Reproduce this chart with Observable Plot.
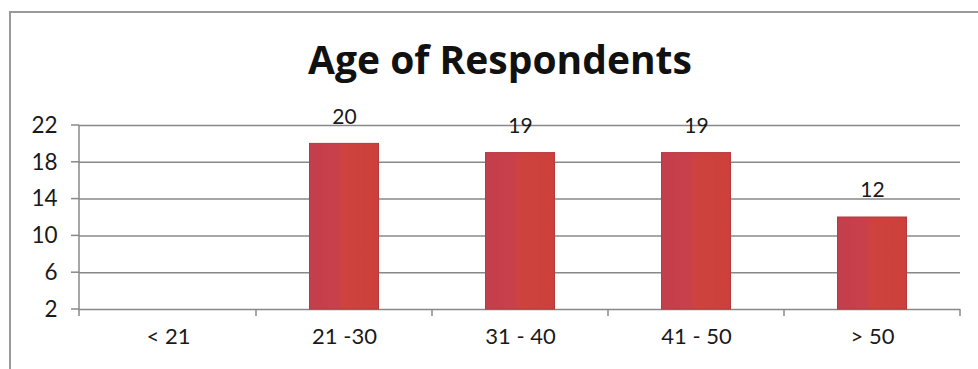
<!DOCTYPE html>
<html>
<head>
<meta charset="utf-8">
<script src="https://cdn.jsdelivr.net/npm/d3@7"></script>
<script src="https://cdn.jsdelivr.net/npm/@observablehq/plot@0.6"></script>
<style>
  html, body { margin: 0; padding: 0; background: #fff; overflow: hidden; }
  #wrap { position: relative; width: 978px; height: 369px; }
  #border { position: absolute; left: 9px; top: 11px; right: 0; bottom: 0;
            border-top: 2px solid #9a9a9a; border-left: 2px solid #9a9a9a; }
  #title { position: absolute; left: 22px; width: 956px; top: 39px; text-align: center;
           font-family: "Open Sans", Lato, sans-serif; font-weight: 700; font-size: 39px;
           line-height: 40px; color: #111; }
  svg { position: absolute; left: 0; top: 0; }
</style>
</head>
<body>
<div id="wrap">
  <div id="border"></div>
  <div id="title">Age of Respondents</div>
</div>
<script>
// Respondents per age group
const categories = ["< 21", "21 -30", "31 - 40", "41 - 50", "> 50"];
const counts = [null, 20, 19, 19, 12];
const yTicks = [2, 6, 10, 14, 18, 22];

const data = categories.map((age, i) => ({age, count: counts[i]}));
const present = data.filter(d => d.count != null);

const lineColor = "#888888";

// Axis line, y tick marks and category boundary ticks
function axisLines(index, {x, y}, channels, {width, marginLeft, marginRight}) {
  const g = d3.create("svg:g")
    .attr("stroke", lineColor).attr("stroke-width", 1.5).attr("fill", "none");
  const left = marginLeft, right = width - marginRight;
  const yb = y(yTicks[0]), yt = y(yTicks[yTicks.length - 1]);
  g.append("line").attr("x1", left).attr("x2", left).attr("y1", yt).attr("y2", yb + 7);
  for (const t of yTicks) {
    g.append("line").attr("x1", left - 8).attr("x2", left).attr("y1", y(t)).attr("y2", y(t));
  }
  const edges = categories.map(c => x(c)).concat([right]);
  for (const e of edges.slice(1)) {
    g.append("line").attr("x1", e).attr("x2", e).attr("y1", yb).attr("y2", yb + 7);
  }
  return g.node();
}

// Horizontal shading for the bars
function barGradient() {
  const defs = d3.create("svg:defs");
  const lg = defs.append("linearGradient").attr("id", "barFill")
    .attr("x1", "0").attr("x2", "1").attr("y1", "0").attr("y2", "0");
  lg.append("stop").attr("offset", "0%").attr("stop-color", "#c43f4c");
  lg.append("stop").attr("offset", "40%").attr("stop-color", "#c8404a");
  lg.append("stop").attr("offset", "50%").attr("stop-color", "#cf433e");
  lg.append("stop").attr("offset", "100%").attr("stop-color", "#cc403c");
  return defs.node();
}

const chart = Plot.plot({
  width: 978,
  height: 369,
  marginLeft: 79,
  marginRight: 18,
  marginTop: 125,
  marginBottom: 60,
  style: {fontFamily: "Lato, 'Open Sans', sans-serif", color: "#1a1a1a", background: "transparent"},
  x: {domain: categories, padding: 0, axis: null},
  y: {domain: [yTicks[0], yTicks[yTicks.length - 1]], axis: null},
  marks: [
    barGradient,
    Plot.ruleY(yTicks, {stroke: lineColor, strokeWidth: 1.5}),
    axisLines,
    Plot.barY(present, {
      x: "age", y1: yTicks[0], y2: "count",
      fill: "url(#barFill)", stroke: "#b8383f", strokeWidth: 1,
      insetLeft: 53.5, insetRight: 53.5
    }),
    Plot.text(present, {x: "age", y: "count", text: d => String(d.count), dy: -27, fontSize: 21}),
    Plot.text(yTicks, {y: d => d, frameAnchor: "left", dx: -22, textAnchor: "end", fontSize: 22.5}),
    Plot.text(categories, {x: d => d, frameAnchor: "bottom", dy: 34, fontSize: 22})
  ]
});

document.getElementById("wrap").appendChild(chart);
</script>
</body>
</html>
